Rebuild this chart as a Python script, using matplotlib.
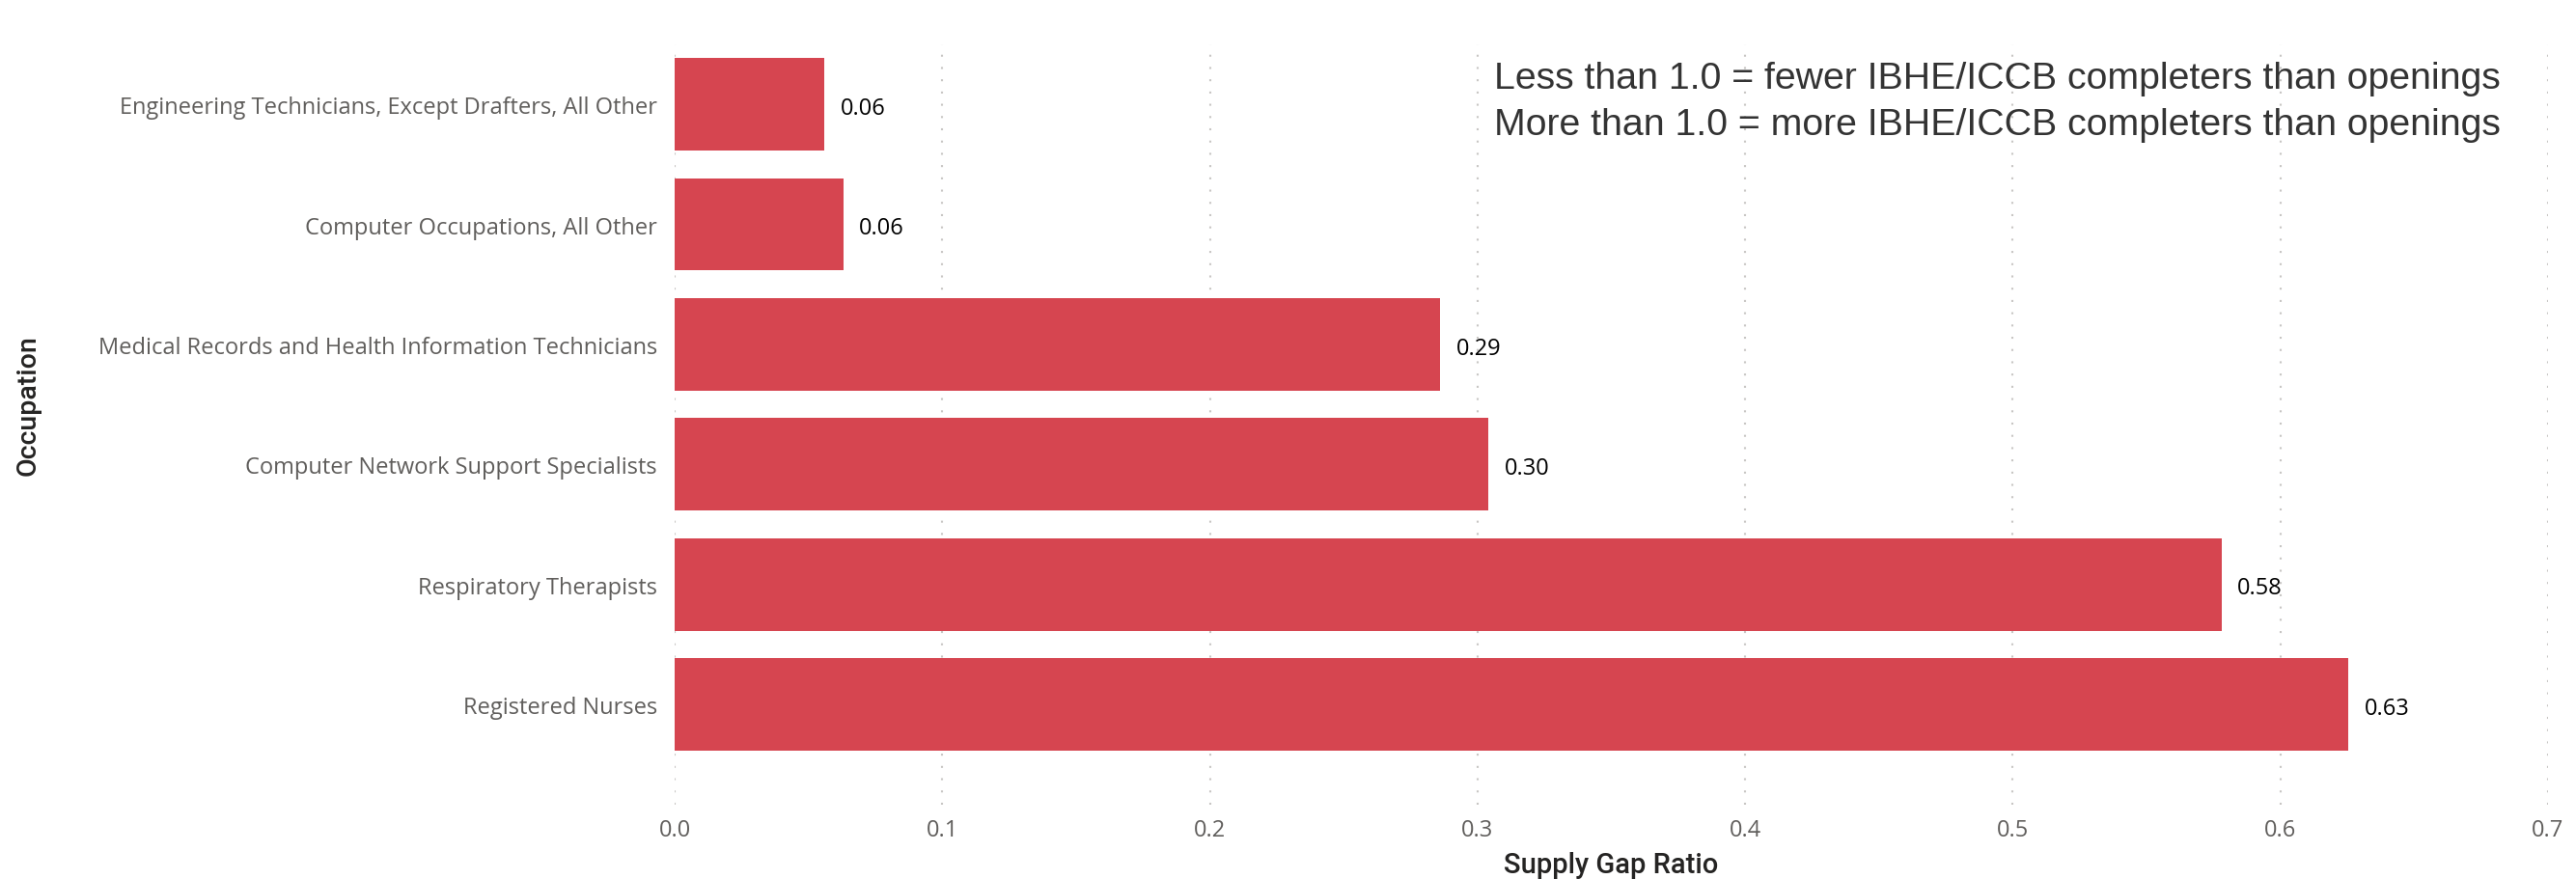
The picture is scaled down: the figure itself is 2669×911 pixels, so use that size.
import matplotlib
matplotlib.use("Agg")
import matplotlib.pyplot as plt

occupations = [
    "Registered Nurses",
    "Respiratory Therapists",
    "Computer Network Support Specialists",
    "Medical Records and Health Information Technicians",
    "Computer Occupations, All Other",
    "Engineering Technicians, Except Drafters, All Other",
]
ratios = [0.6255, 0.578, 0.304, 0.286, 0.063, 0.056]
xticks = [0.0, 0.1, 0.2, 0.3, 0.4, 0.5, 0.6, 0.7]
note_lines = [
    "Less than 1.0 = fewer IBHE/ICCB completers than openings",
    "More than 1.0 = more IBHE/ICCB completers than openings",
]

W, H = 2669, 912
fig = plt.figure(figsize=(W / 100, H / 100), dpi=100)
ax_left, ax_right = 699 / W, 2640 / W
ax_top, ax_bot = 47 / H, 835 / H
ax = fig.add_axes([ax_left, 1 - ax_bot, ax_right - ax_left, ax_bot - ax_top])

bar_color = "#D64550"
ypos = list(range(len(occupations)))
ax.barh(ypos, ratios, height=0.77, color=bar_color, zorder=2)

for y, v in zip(ypos, ratios):
    ax.text(v + 0.006, y - 0.03, f"{v:.2f}", va="center", ha="left",
            fontsize=17, color="#000000", family="Open Sans")

ax.set_xlim(0, 0.7)
ax.set_ylim(-0.836, 5.5)
ax.set_xticks(xticks)
ax.set_xticklabels([f"{t:.1f}" for t in xticks])
ax.set_yticks(ypos)
ax.set_yticklabels(occupations)

for s in ax.spines.values():
    s.set_visible(False)
ax.tick_params(axis="both", length=0, colors="#605E5C", labelsize=17)
ax.tick_params(axis="y", pad=13)
ax.tick_params(axis="x", pad=10)
for lab in ax.get_xticklabels() + ax.get_yticklabels():
    lab.set_family("Open Sans")
    lab.set_color("#605E5C")

ax.xaxis.grid(True, color="#C8C6C4", linewidth=1.5, linestyle=(0, (1, 5.1)), zorder=0)
ax.yaxis.grid(False)
ax.set_axisbelow(True)

ax.set_xlabel("Supply Gap Ratio", fontsize=21, color="#252423", family="Roboto",
              fontweight="medium")
ax.xaxis.set_label_coords(0.5, -0.061)
ax.set_ylabel("Occupation", fontsize=20.5, color="#252423", family="Roboto",
              fontweight="medium")
ax.yaxis.set_label_coords(-0.338, 0.527)

nx = (1548 - 699) / (2640 - 699)
ax.text(nx, 1 - (82 - 47) / (835 - 47), note_lines[0],
        transform=ax.transAxes, ha="left", va="center", fontsize=28.3,
        color="#333333", family="Liberation Sans")
ax.text(nx, 1 - (130 - 47) / (835 - 47), note_lines[1],
        transform=ax.transAxes, ha="left", va="center", fontsize=28.3,
        color="#333333", family="Liberation Sans")

fig.savefig("out.png", dpi=100, facecolor="white")
